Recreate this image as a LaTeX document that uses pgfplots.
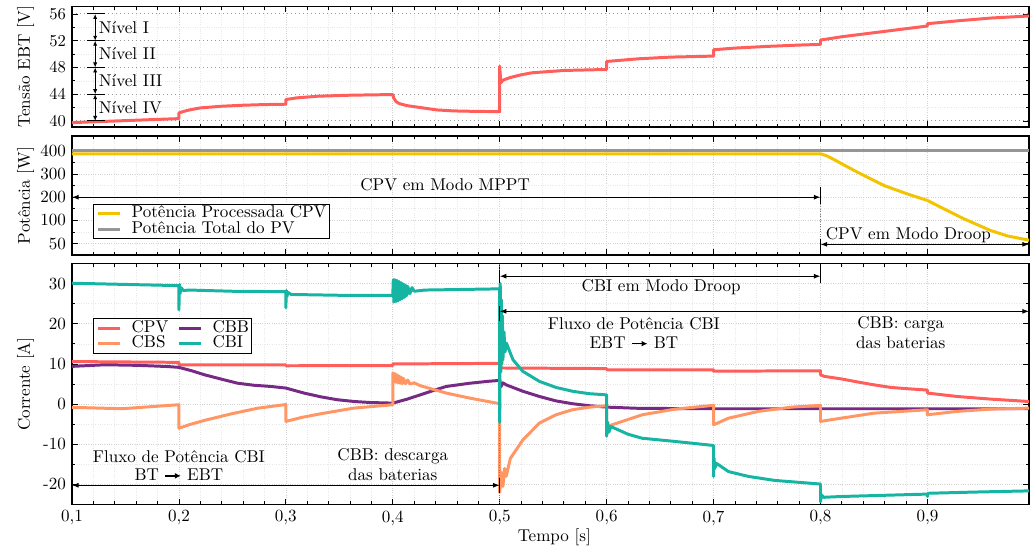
\documentclass[border=0pt]{standalone}
\usepackage{fontspec}
\usepackage{pgfplots}
\pgfplotsset{compat=1.18}
\usetikzlibrary{arrows.meta}
\definecolor{ccpv}{RGB}{255,94,91}
\definecolor{ccbs}{RGB}{255,150,100}
\definecolor{ccbb}{RGB}{118,42,131}
\definecolor{ccbi}{RGB}{22,180,162}
\definecolor{cyel}{RGB}{242,196,0}
\definecolor{cgry}{RGB}{150,150,150}
\tikzset{
  arr/.style={black, line width=0.6pt, {Latex[length=4pt,width=3pt]}-{Latex[length=4pt,width=3pt]}},
  sarr/.style={black, line width=0.5pt, {Latex[length=3pt,width=2.5pt]}-{Latex[length=3pt,width=2.5pt]}},
}
\pgfplotsset{
  myax/.style={
    scale only axis, width=577.4pt, xmin=0.1, xmax=0.995,
    anchor=south west,
    axis line style={line width=1pt},
    xtick={0.1,0.2,0.3,0.4,0.5,0.6,0.7,0.8,0.9},
    minor x tick num=4,
    grid=both,
    major grid style={densely dotted, gray!35},
    minor grid style={densely dotted, gray!18},
    tick style={black, line width=0.5pt},
    major tick length=3.5pt, minor tick length=2pt,
    every axis plot/.append style={line width=1.8pt, no marks, line join=round},
    ylabel style={at={(axis description cs:-0.0485,0.5)}, anchor=center},
    legend cell align=left,
    legend style={draw=black, line width=0.5pt, fill=white, inner sep=1pt, row sep=0pt,
      nodes={inner sep=0.6pt, text height=6.6pt, text depth=1.6pt}},
    legend image code/.code={\draw[#1] (0.03cm,0cm) -- (0.49cm,0cm); \path (0cm,0cm) (0.69cm,0cm);},
  },
}
\newsavebox{\arrbox}
\begin{document}
\fontsize{10.3}{12.4}\selectfont
\sbox{\arrbox}{\tikz[baseline=-0.6ex]\draw[line width=0.9pt,-{Latex[length=3.5pt,width=3.5pt]}] (0,0)--(0.9em,0);}
\begin{tikzpicture}
% ---------------- top panel
\begin{axis}[myax, at={(40pt,253.4pt)}, height=72.6pt,
  ymin=39.1, ymax=57.1, ytick={40,44,48,52,56}, minor y tick num=1,
  xticklabels={}, ylabel={Tensão EBT [V]},
  major y grid style={dotted, gray!80, line width=0.6pt}]
\addplot[ccpv] coordinates {(0.1,39.75)(0.15,40.05)(0.2,40.35)(0.2,41.2)(0.205,41.45)(0.21,41.65)(0.22,41.95)(0.24,42.2)(0.26,42.35)(0.28,42.45)(0.3,42.5)(0.3,43.2)(0.31,43.45)(0.33,43.7)(0.36,43.85)(0.4,43.95)(0.401,43.4)(0.403,42.9)(0.406,42.6)(0.413,42.3)(0.426,42.0)(0.441,41.65)(0.457,41.5)(0.48,41.42)(0.5,41.4)(0.5,48.2)(0.501,45.7)(0.503,46.1)(0.51,46.5)(0.52,46.9)(0.53,47.2)(0.56,47.55)(0.6,47.7)(0.6,48.9)(0.63,49.3)(0.66,49.55)(0.7,49.7)(0.7,50.65)(0.72,50.9)(0.75,51.15)(0.78,51.35)(0.8,51.45)(0.8,52.1)(0.82,52.6)(0.85,53.2)(0.88,53.8)(0.9,54.2)(0.9,54.55)(0.93,55.0)(0.96,55.4)(0.995,55.7)};
\draw[black, line width=0.6pt] (axis cs:0.1142,40) -- (axis cs:0.131,40);
\draw[black, line width=0.6pt] (axis cs:0.1142,44) -- (axis cs:0.131,44);
\draw[black, line width=0.6pt] (axis cs:0.1142,48) -- (axis cs:0.131,48);
\draw[black, line width=0.6pt] (axis cs:0.1142,52) -- (axis cs:0.131,52);
\draw[black, line width=0.6pt] (axis cs:0.1142,56) -- (axis cs:0.131,56);
\draw[sarr] (axis cs:0.1217,56) -- (axis cs:0.1217,52);
\draw[sarr] (axis cs:0.1217,52) -- (axis cs:0.1217,48);
\draw[sarr] (axis cs:0.1217,48) -- (axis cs:0.1217,44);
\draw[sarr] (axis cs:0.1217,44) -- (axis cs:0.1217,40);
\node[anchor=west, inner sep=2pt] at (axis cs:0.1217,54) {Nível I};
\node[anchor=west, inner sep=2pt] at (axis cs:0.1217,50) {Nível II};
\node[anchor=west, inner sep=2pt] at (axis cs:0.1217,46) {Nível III};
\node[anchor=west, inner sep=2pt] at (axis cs:0.1217,42) {Nível IV};
\end{axis}
% ---------------- middle panel
\begin{axis}[myax, at={(40pt,176pt)}, height=72pt,
  ymin=-50, ymax=464, ytick={0,100,200,300,400}, yticklabels={50,100,200,300,400},
  minor y tick num=1, xticklabels={}, ylabel={Potência [W]},
  legend style={at={(axis description cs:0.022,0.431)}, anchor=north west}]
\addplot[cyel] coordinates {(0.1,387)(0.8,387)(0.806,378)(0.8131,361)(0.8348,307)(0.8596,250)(0.8813,214)(0.9,186)(0.9124,157)(0.9341,107)(0.9589,57)(0.975,33)(0.995,15)};
\addlegendentry{Potência Processada CPV}
\addplot[cgry] coordinates {(0.1,401)(0.995,401)};
\addlegendentry{Potência Total do PV}
\draw[arr] (axis cs:0.1,200) -- (axis cs:0.8,200);
\draw[black, line width=0.6pt] (axis cs:0.8,171) -- (axis cs:0.8,243);
\draw[gray, densely dotted, line width=0.5pt] (axis cs:0.8,171) -- (axis cs:0.8,21);
\draw[arr] (axis cs:0.8,-3) -- (axis cs:0.995,-3);
\draw[black, line width=0.6pt] (axis cs:0.8,21) -- (axis cs:0.8,-36);
\node at (axis cs:0.449,252) {CPV em Modo MPPT};
\node[anchor=west, inner sep=3pt] at (axis cs:0.8,36) {CPV em Modo Droop};
\end{axis}
% ---------------- bottom panel
\begin{axis}[myax, at={(40pt,25.6pt)}, height=145.4pt,
  ymin=-25, ymax=35, ytick={-20,-10,0,10,20,30}, yticklabels={-20,-10,0,10,20,30},
  minor y tick num=1,
  xticklabels={{0,1},{0,2},{0,3},{0,4},{0,5},{0,6},{0,7},{0,8},{0,9}},
  ylabel={Corrente [A]}, xlabel={Tempo [s]},
  xlabel style={at={(axis description cs:0.504,0)}, anchor=center, yshift=-19.6pt},
  legend columns=2,
  legend style={at={(axis description cs:0.022,0.773)}, anchor=north west,
    /tikz/every even column/.append style={column sep=4pt}}]
\addplot[ccpv] coordinates {(0.1,10.6)(0.2,10.4)(0.2,9.8)(0.3,9.8)(0.3,9.55)(0.4,9.6)(0.4,10.0)(0.5,10.15)(0.5,9.0)(0.6,8.85)(0.6,8.55)(0.7,8.55)(0.7,8.2)(0.8,8.3)(0.8,7.3)(0.8038,6.9)(0.819,6.3)(0.835,5.5)(0.85,4.8)(0.866,4.15)(0.883,3.8)(0.9,3.5)(0.9,2.75)(0.928,1.9)(0.959,1.25)(0.995,0.65)};
\addlegendentry{CPV}
\addplot[ccbb] coordinates {(0.1,9.4)(0.131,9.8)(0.162,9.65)(0.19,9.35)(0.2,9.15)(0.212,8.3)(0.224,7.3)(0.24,6.2)(0.255,5.2)(0.27,4.7)(0.286,4.4)(0.3,4.0)(0.317,2.75)(0.333,1.8)(0.348,1.1)(0.364,0.65)(0.379,0.4)(0.4,0.25)(0.413,1.2)(0.4256,2.3)(0.438,3.4)(0.45,4.4)(0.472,5.2)(0.49,5.7)(0.5,5.9)(0.5,6.1)(0.501,4.3)(0.503,5.3)(0.506,4.8)(0.5217,3.2)(0.5372,1.9)(0.5527,0.8)(0.568,0.1)(0.584,-0.4)(0.6,-0.75)(0.63,-1.05)(0.7,-1.15)(0.995,-1.15)};
\addlegendentry{CBB}
\addplot[ccbs] coordinates {(0.1,-0.8)(0.1465,-1.15)(0.2,-0.15)(0.2,-6.0)(0.21,-5.1)(0.2246,-4.0)(0.2494,-2.4)(0.274,-1.0)(0.3,-0.1)(0.3,-4.3)(0.315,-3.3)(0.3326,-2.4)(0.3635,-1.0)(0.4,-0.15)(0.4,7.8)(0.401,5.5)(0.402,7.6)(0.403,5.4)(0.404,7.3)(0.405,5.3)(0.406,7.0)(0.407,5.2)(0.408,6.7)(0.409,5.1)(0.41,6.4)(0.412,5.1)(0.414,6.0)(0.416,5.0)(0.42,5.3)(0.4256,4.6)(0.45,2.75)(0.472,1.5)(0.5,0.1)(0.5,-22)(0.5015,-17)(0.503,-20.5)(0.5045,-16)(0.506,-18)(0.51,-13.5)(0.5217,-8.9)(0.5372,-4.7)(0.5527,-2.65)(0.568,-1.4)(0.584,-0.75)(0.6,-0.4)(0.6,-5.6)(0.6333,-2.65)(0.664,-1.25)(0.7,-0.3)(0.7,-5.15)(0.714,-3.5)(0.742,-1.8)(0.773,-0.75)(0.8,-0.3)(0.8,-4.3)(0.8194,-3.5)(0.85,-2.25)(0.9,-1.4)(0.9,-2.65)(0.928,-1.8)(0.959,-1.25)(0.995,-1.0)};
\addlegendentry{CBS}
\addplot[ccbi] coordinates {(0.1,30.1)(0.15,29.8)(0.2,29.5)(0.2,23.5)(0.2005,29.8)(0.201,27.5)(0.202,29.0)(0.204,28.3)(0.21,28.4)(0.25,28.1)(0.3,28.0)(0.3,24.0)(0.3005,28.3)(0.301,26.8)(0.302,27.8)(0.305,27.3)(0.35,27.1)(0.4,27.1)(0.4005,31)(0.401,25.4)(0.402,31)(0.403,25.5)(0.404,30.8)(0.405,25.7)(0.406,30.5)(0.407,26)(0.408,30.2)(0.409,26.3)(0.41,29.9)(0.411,26.6)(0.412,29.6)(0.413,27)(0.414,29.3)(0.416,27.5)(0.418,29)(0.42,28.1)(0.43,28.4)(0.5,28.7)(0.5,-4.5)(0.5005,30)(0.501,8)(0.5015,26)(0.502,10)(0.5025,22)(0.503,11)(0.504,18)(0.505,13)(0.5062,15.2)(0.5124,11.05)(0.5217,8.15)(0.5372,5.65)(0.5527,4.15)(0.5682,3.2)(0.5837,2.6)(0.6,2.3)(0.6,-8.0)(0.601,-4.5)(0.602,-7)(0.604,-5.6)(0.61,-6.3)(0.62,-7.5)(0.6333,-8.5)(0.6643,-9.3)(0.7,-10.3)(0.7,-18)(0.7005,-13.5)(0.701,-16)(0.703,-14.8)(0.714,-16.8)(0.7326,-18)(0.7573,-19.0)(0.8,-19.9)(0.8,-24.3)(0.801,-22.6)(0.803,-23.2)(0.8194,-23.0)(0.9,-22.4)(0.9,-23)(0.9005,-22.2)(0.9434,-21.9)(0.995,-21.6)};
\addlegendentry{CBI}
\draw[gray, densely dotted, line width=0.5pt] (axis cs:0.5,35) -- (axis cs:0.5,-25);
\draw[arr] (axis cs:0.5,31.85) -- (axis cs:0.8,31.85);
\draw[black, line width=0.6pt] (axis cs:0.5,30.2) -- (axis cs:0.5,33.4);
\draw[black, line width=0.6pt] (axis cs:0.8,30.2) -- (axis cs:0.8,35);
\draw[arr] (axis cs:0.5,23.1) -- (axis cs:0.995,23.1);
\draw[black, line width=0.6pt] (axis cs:0.5,20.6) -- (axis cs:0.5,24.4);
\draw[arr] (axis cs:0.1,-20.2) -- (axis cs:0.5,-20.2);
\draw[black, line width=0.6pt] (axis cs:0.5,-18.5) -- (axis cs:0.5,-22.2);
\node at (axis cs:0.651,29.1) {CBI em Modo Droop};
\node at (axis cs:0.6255,20.0) {Fluxo de Potência CBI};
\node at (axis cs:0.6255,15.4) {EBT \usebox{\arrbox}\ BT};
\node at (axis cs:0.875,20.0) {CBB: carga};
\node at (axis cs:0.875,15.4) {das baterias};
\node at (axis cs:0.2,-13.0) {Fluxo de Potência CBI};
\node at (axis cs:0.2,-17.5) {BT \usebox{\arrbox}\ EBT};
\node at (axis cs:0.4,-13.0) {CBB: descarga};
\node at (axis cs:0.4,-17.5) {das baterias};
\end{axis}
\pgfresetboundingbox
\useasboundingbox (0,0) rectangle (618pt,330pt);
\end{tikzpicture}
\end{document}
